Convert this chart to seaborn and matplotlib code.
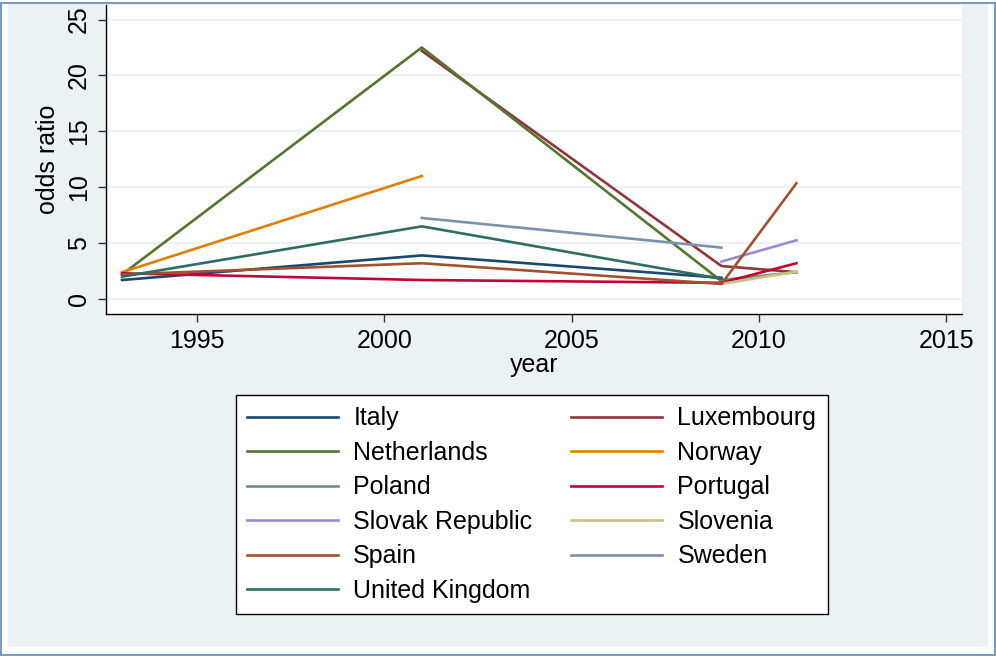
import numpy as np
import pandas as pd
import matplotlib
matplotlib.use('Agg')
import matplotlib.pyplot as plt
from matplotlib.patches import Rectangle
import seaborn as sns

# 数据
years = [1993, 2001, 2009, 2011]
italy = [1.7, 3.9, 1.9, np.nan]
luxembourg = [np.nan, 22.2, 2.95, 2.4]
netherlands = [2.2, 22.5, 1.6, np.nan]
norway = [2.4, 11.0, np.nan, np.nan]
poland = [np.nan, np.nan, 1.7, 2.4]
portugal = [2.3, 1.7, 1.45, 3.2]
slovak = [np.nan, np.nan, 3.35, 5.25]
slovenia = [np.nan, np.nan, 1.35, 2.45]
spain = [2.2, 3.2, 1.35, 10.35]
sweden = [np.nan, 7.25, 4.6, np.nan]
uk = [2.0, 6.5, 1.8, np.nan]

countries = ['Italy', 'Luxembourg', 'Netherlands', 'Norway', 'Poland', 'Portugal',
             'Slovak Republic', 'Slovenia', 'Spain', 'Sweden', 'United Kingdom']
series = [italy, luxembourg, netherlands, norway, poland, portugal,
          slovak, slovenia, spain, sweden, uk]
colors = ['#1A476F', '#90353B', '#55752F', '#E37E00', '#6E8E84', '#C10534',
          '#938DD2', '#CAC27E', '#A0522D', '#7B92A8', '#2D6D66']

rows = []
for c, vals in zip(countries, series):
    for y, v in zip(years, vals):
        rows.append({'country': c, 'year': y, 'odds ratio': v})
df = pd.DataFrame(rows).dropna()

bg = '#EAF2F3'
plt.rcParams['font.family'] = ['Liberation Sans', 'DejaVu Sans']
plt.rcParams['font.size'] = 18

fig = plt.figure(figsize=(9.96, 6.56), dpi=100, facecolor='white')
W, H = 996, 656
fig.add_artist(Rectangle((8 / W, 9 / H), 980 / W, 643 / H, transform=fig.transFigure,
                         facecolor=bg, edgecolor='none', zorder=-2))
fig.add_artist(Rectangle((1 / W, 1 / H), 994 / W, 652 / H, transform=fig.transFigure,
                         facecolor='none', edgecolor='#7C9BC4', linewidth=1.5, zorder=-1))

ax = fig.add_axes([106 / W, 1 - 314 / H, 856 / W, 309 / H])
ax.set_facecolor('white')

sns.lineplot(data=df, x='year', y='odds ratio', hue='country', hue_order=countries,
             palette=dict(zip(countries, colors)), estimator=None, linewidth=1.9,
             ax=ax)

ax.set_xlim(1992.57, 2015.42)
ax.set_ylim(-1.34, 26.3)
ax.set_xticks([1995, 2000, 2005, 2010, 2015])
ax.set_yticks([0, 5, 10, 15, 20, 25])
ax.grid(axis='y', color=bg, linewidth=1.5)
ax.set_axisbelow(True)
for s in ['top', 'right']:
    ax.spines[s].set_visible(False)
for s in ['left', 'bottom']:
    ax.spines[s].set_color('black')
    ax.spines[s].set_linewidth(1.0)
ax.tick_params(axis='both', direction='out', length=6, width=1, color='#333333')
ax.tick_params(axis='x', pad=5)
ax.tick_params(axis='y', pad=5)
plt.setp(ax.get_yticklabels(), rotation=90, va='center')
ax.set_xlabel('year', labelpad=0)
ax.set_ylabel('odds ratio', labelpad=5)

handles, labels = ax.get_legend_handles_labels()
ax.get_legend().remove()
order = list(range(0, 11, 2)) + list(range(1, 11, 2))
leg = fig.legend([handles[i] for i in order], [labels[i] for i in order],
                 loc='upper left', bbox_to_anchor=(236 / W, 1 - 395 / H), ncol=2,
                 frameon=True, fancybox=False, edgecolor='black', framealpha=1,
                 handlelength=3.64, handletextpad=0.6, columnspacing=1.56,
                 labelspacing=0.42, borderpad=0.45, borderaxespad=0)
leg.get_frame().set_linewidth(1.0)
for line in leg.get_lines():
    line.set_linewidth(1.9)

fig.savefig('out.png', dpi=100, facecolor=fig.get_facecolor())
